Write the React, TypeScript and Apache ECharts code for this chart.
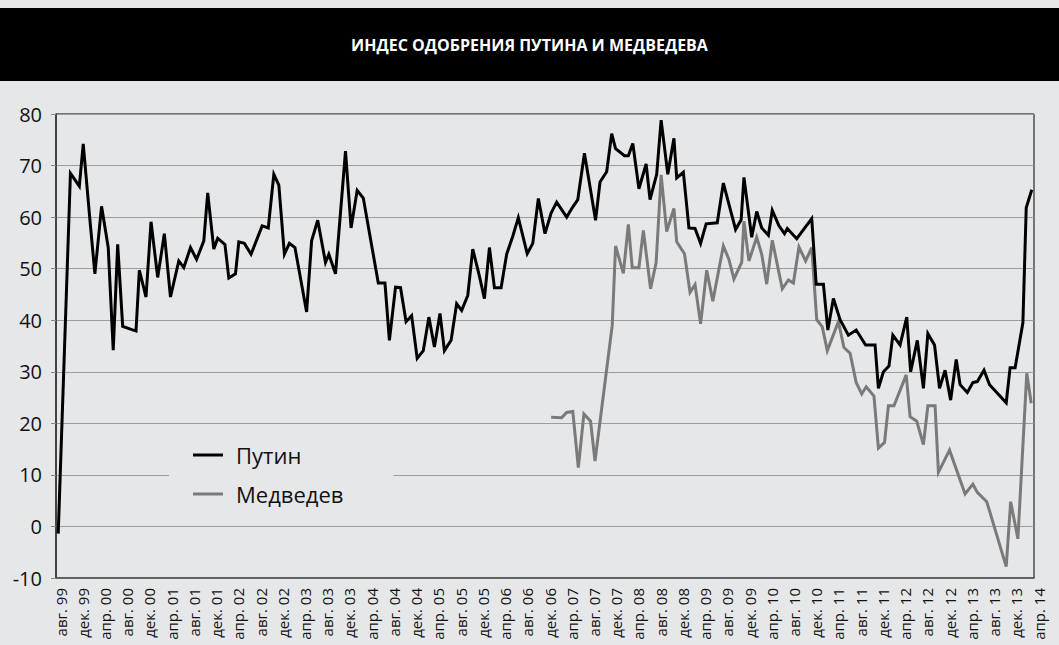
import React, { useEffect, useRef } from "react";
import * as echarts from "echarts";

const tickLabels = [
  "авг. 99", "дек. 99",
  "апр. 00", "авг. 00", "дек. 00",
  "апр. 01", "авг. 01", "дек. 01",
  "апр. 02", "авг. 02", "дек. 02",
  "апр. 03", "авг. 03", "дек. 03",
  "апр. 04", "авг. 04", "дек. 04",
  "апр. 05", "авг. 05", "дек. 05",
  "апр. 06", "авг. 06", "дек. 06",
  "апр. 07", "авг. 07", "дек. 07",
  "апр. 08", "авг. 08", "дек. 08",
  "апр. 09", "авг. 09", "дек. 09",
  "апр. 10", "авг. 10", "дек. 10",
  "апр. 11", "авг. 11", "дек. 11",
  "апр. 12", "авг. 12", "дек. 12",
  "апр. 13", "авг. 13", "дек. 13",
  "апр. 14",
];

// months since авг. 1999 (survey dates)
const putinMonths = [
  0.4, 2.6, 4.2, 4.9, 6.1, 7.0, 8.2, 9.4, 10.3, 11.1, 12.0, 14.4, 15.0, 16.2, 17.1, 18.3,
  19.5, 20.6, 22.1, 23.0, 24.2, 25.3, 26.6, 27.3, 28.4, 29.1, 30.4, 31.1, 32.3, 32.9, 33.9,
  35.1, 37.1, 38.2, 39.2, 40.1, 41.1, 42.0, 43.0, 45.1, 46.0, 47.1, 48.5, 49.1, 50.3, 52.1,
  53.1, 54.2, 55.3, 58.0, 59.2, 60.0, 61.1, 62.0, 63.0, 64.0, 65.0, 66.1, 67.1, 68.1, 69.1,
  69.9, 71.1, 72.1, 73.0, 74.1, 75.0, 76.1, 77.1, 78.0, 78.9, 80.1, 81.1, 82.2, 83.2, 84.8,
  85.8, 86.8, 88.0, 89.1, 90.1, 91.9, 92.9, 93.9, 95.1, 97.1, 97.9, 99.1, 100.0, 100.7,
  102.3, 103.0, 103.8, 104.9, 106.2, 106.9, 108.1, 108.9, 110.1, 111.2, 111.7, 112.9,
  113.9, 115.0, 116.0, 117.0, 119.0, 120.1, 121.2, 122.3, 123.3, 123.8, 125.2, 126.1,
  127.0, 128.2, 128.9, 130.1, 131.1, 131.6, 133.3, 136.0, 136.8, 138.1, 138.9, 139.9,
  141.1, 142.6, 144.0, 145.7, 147.4, 148.0, 148.9, 149.9, 150.6, 151.9, 153.1, 153.8,
  155.0, 156.1, 156.9, 158.1, 159.0, 160.0, 161.0, 162.0, 162.7, 164.0, 165.0, 165.8,
  167.0, 168.0, 171.0, 171.7, 172.6, 174.0, 174.6, 175.6,
];
const putinValues = [
  -1.4, 68.5, 66.0, 74.2, 59.5, 49.0, 62.1, 54.1, 34.2, 54.7, 38.8, 37.9, 49.7, 44.5, 59.1, 48.3,
  56.8, 44.5, 51.5, 50.2, 54.1, 51.8, 55.4, 64.7, 53.8, 55.9, 54.7, 48.2, 49.0, 55.2, 54.9,
  52.8, 58.3, 57.9, 68.3, 66.2, 52.8, 54.9, 54.1, 41.6, 55.4, 59.4, 51.2, 52.8, 49.0, 72.8,
  57.9, 65.2, 63.7, 47.2, 47.2, 36.1, 46.4, 46.3, 39.7, 40.9, 32.6, 34.1, 40.6, 34.8, 41.3,
  34.1, 36.1, 43.2, 41.9, 44.8, 53.8, 49.0, 44.2, 54.1, 46.3, 46.3, 52.8, 56.3, 59.9, 52.9,
  54.9, 63.6, 56.8, 60.8, 62.9, 60.0, 61.8, 63.4, 72.4, 59.4, 66.8, 68.8, 76.2, 73.3,
  71.9, 71.9, 74.3, 65.5, 70.3, 63.4, 68.3, 78.8, 68.3, 75.3, 67.6, 68.7,
  57.9, 57.8, 54.9, 58.7, 58.9, 66.6, 62.1, 57.6, 59.5, 67.7, 56.1, 61.1,
  57.9, 56.5, 61.3, 58.3, 56.8, 57.8, 55.8, 59.7, 47.0, 47.0, 38.1, 44.2,
  40.1, 37.1, 38.1, 35.2, 35.2, 26.8, 30.0, 31.1, 37.1, 35.2, 40.6, 30.0,
  36.1, 26.8, 37.4, 35.2, 26.8, 30.3, 24.5, 32.4, 27.5, 26.0, 27.9, 28.1,
  30.3, 27.5, 24.0, 30.8, 30.8, 39.5, 61.8, 65.3,
];

const medvedevMonths = [
  89.1, 91.0, 91.9, 93.0, 94.0, 95.0, 96.2, 97.0, 100.1, 100.7, 102.1, 103.0, 103.7, 104.9,
  105.7, 107.0, 108.0, 108.9, 109.9, 111.2, 111.7, 113.1, 114.1, 115.0, 116.0, 117.1, 118.2,
  120.1, 121.1, 122.0, 123.4, 123.8, 124.7, 126.1, 127.0, 127.9, 128.9, 130.7, 131.8, 132.7,
  133.7, 134.9, 136.0, 136.9, 137.9, 138.8, 140.8, 141.8, 142.9, 144.0, 145.0, 145.8, 147.2,
  148.0, 149.1, 149.8, 150.8, 153.0, 153.7, 154.9, 156.1, 156.9, 158.2, 158.8, 160.8, 163.6,
  165.0, 165.8, 167.5, 171.0, 171.8, 173.1, 174.7, 175.5,
];
const medvedevValues = [
  21.2, 21.1, 22.1, 22.3, 11.4, 21.8, 20.4, 12.7, 39.0, 54.4, 49.1, 58.6, 50.2, 50.2,
  57.4, 46.1, 51.2, 68.2, 57.2, 61.7, 55.2, 52.9, 45.4, 46.9, 39.3, 49.7, 43.7,
  54.4, 51.8, 48.0, 51.2, 59.2, 51.5, 56.1, 52.8, 47.0, 55.5, 46.1, 47.8, 47.2,
  54.2, 51.5, 54.1, 40.1, 38.7, 34.1, 39.7, 34.7, 33.6, 27.9, 25.7, 27.1, 25.3,
  15.2, 16.3, 23.4, 23.4, 29.4, 21.3, 20.4, 15.9, 23.4, 23.4, 10.5, 14.8, 6.3,
  8.2, 6.6, 4.8, -7.8, 4.8, -2.4, 29.7, 23.9,
];

const seriesNames = ["Путин", "Медведев"];
const titleText = "ИНДЕС ОДОБРЕНИЯ ПУТИНА И МЕДВЕДЕВА";

const FONT = '"Open Sans", "Noto Sans", sans-serif';

export default function App() {
  const ref = useRef<HTMLDivElement>(null);

  useEffect(() => {
    if (!ref.current) return;
    const chart = echarts.init(ref.current, undefined, { renderer: "svg" });
    chart.setOption({
      animation: false,
      backgroundColor: "#e6e7e9",
      textStyle: { fontFamily: FONT },
      graphic: [
        {
          type: "rect",
          left: 0,
          top: 8,
          shape: { width: 1059, height: 73 },
          style: { fill: "#000" },
          z: 10,
        },
        {
          type: "text",
          left: "center",
          top: 37,
          z: 11,
          style: {
            text: titleText,
            fill: "#fff",
            font: `bold 16px ${FONT}`,
          },
        },
      ],
      grid: {
        left: 56,
        right: 25,
        top: 114,
        bottom: 67,
        show: true,
        borderColor: "#000",
        borderWidth: 1,
        backgroundColor: "transparent",
      },
      legend: {
        data: seriesNames.map((n) => ({ name: n, icon: "rect" })),
        orient: "vertical",
        left: 169,
        top: 430,
        padding: [12, 50, 12, 24],
        itemGap: 13,
        itemWidth: 30,
        itemHeight: 3,
        backgroundColor: "#e6e7e9",
        textStyle: { fontSize: 22, color: "#111", fontFamily: FONT, lineHeight: 26, padding: [0, 0, 0, 8] },
      },
      xAxis: {
        type: "value",
        min: 0,
        max: 176,
        interval: 4,
        axisLine: { show: true, onZero: false, lineStyle: { color: "#555", width: 1.5 } },
        axisTick: { show: false },
        splitLine: { show: false },
        axisLabel: {
          rotate: 90,
          fontSize: 15,
          color: "#111",
          margin: 10,
          verticalAlign: "top",
          lineHeight: 9,
          showMinLabel: true,
          showMaxLabel: true,
          formatter: (v: number) => tickLabels[Math.round(v / 4)] ?? "",
        },
      },
      yAxis: {
        type: "value",
        min: -10,
        max: 80,
        interval: 10,
        axisLine: { show: true, lineStyle: { color: "#333", width: 1.5 } },
        axisTick: { show: true, length: 5, lineStyle: { color: "#888" } },
        splitLine: { show: true, lineStyle: { color: "#9c9c9c", width: 1.2 } },
        axisLabel: { fontSize: 20, color: "#111", margin: 14 },
      },
      series: [
        {
          name: seriesNames[0],
          type: "line",
          data: putinMonths.map((m, i) => [m, putinValues[i]]),
          symbol: "none",
          showSymbol: false,
          z: 3,
          lineStyle: { color: "#000", width: 3, join: "miter" },
          itemStyle: { color: "#000" },
        },
        {
          name: seriesNames[1],
          type: "line",
          data: medvedevMonths.map((m, i) => [m, medvedevValues[i]]),
          symbol: "none",
          showSymbol: false,
          z: 2,
          lineStyle: { color: "#7a7a7a", width: 3, join: "miter" },
          itemStyle: { color: "#7a7a7a" },
        },
      ],
    });
    return () => chart.dispose();
  }, []);

  return (
    <div
      ref={ref}
      style={{ position: "fixed", left: 0, top: 0, width: 1059, height: 645, background: "#e6e7e9" }}
    />
  );
}
